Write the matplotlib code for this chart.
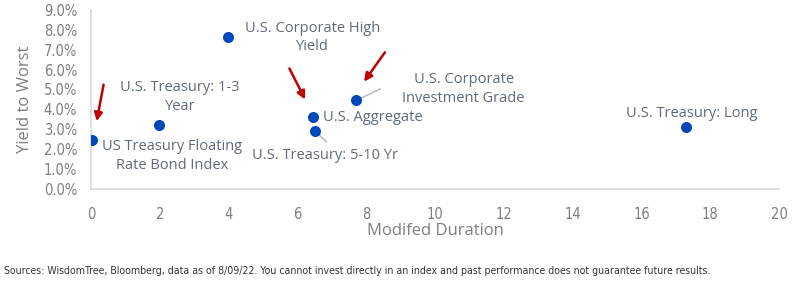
import matplotlib.pyplot as plt
from matplotlib.ticker import PercentFormatter
from matplotlib import font_manager

# data
names = ['US Treasury Floating\nRate Bond Index', 'U.S. Treasury: 1-3\nYear',
         'U.S. Corporate High\nYield', 'U.S. Aggregate', 'U.S. Treasury: 5-10 Yr',
         'U.S. Corporate\nInvestment Grade', 'U.S. Treasury: Long']
duration = [0.03, 1.98, 3.99, 6.46, 6.52, 7.69, 17.29]
ytw = [2.48, 3.22, 7.64, 3.62, 2.91, 4.47, 3.12]

# label placement (data coords) and alignment
label_pos = [(2.36, 1.66), (2.59, 4.62), (6.43, 7.61), (6.75, 3.57),
             (6.81, 1.66), (10.83, 5.03), (17.47, 3.77)]
label_ha = ['center', 'center', 'center', 'left', 'center', 'center', 'center']

x_ticks = list(range(0, 21, 2))
y_ticks = [i * 1.0 for i in range(10)]

gray = '#7f7f7f'
txt = '#5f6b7a'
plt.rcParams['font.family'] = ['Open Sans', 'DejaVu Sans']

# a narrow face for ticks and footnote, if one is around
names_avail = {f.name for f in font_manager.fontManager.ttflist}
narrow = 'Liberation Sans Narrow' if 'Liberation Sans Narrow' in names_avail else 'DejaVu Sans'

fig = plt.figure(figsize=(7.95, 2.82), dpi=100)
ax = fig.add_axes([0.1145, 0.33, 0.8655, 0.635])

ax.scatter(duration, ytw, s=48, color='#0047bb', zorder=3)

for name, (lx, ly), ha in zip(names, label_pos, label_ha):
    ax.text(lx, ly, name, ha=ha, va='center', fontsize=10.5, color=txt,
            linespacing=1.35)

# leader lines
ax.plot([7.74, 8.41], [4.47, 5.03], color='#b0b8c4', lw=1)
ax.plot([6.52, 6.84], [2.91, 2.36], color='#b0b8c4', lw=1)

# red arrows
arrows = [((0.38, 5.38), (0.15, 3.27)),
          ((5.73, 6.18), (6.26, 4.37)),
          ((8.59, 6.98), (7.89, 5.28))]
for start, end in arrows:
    ax.annotate('', xy=end, xytext=start,
                arrowprops=dict(arrowstyle='-|>', color='#c00000', lw=1.8,
                                mutation_scale=12))

ax.set_xlim(0, 20)
ax.set_ylim(0, 9)
ax.set_xticks(x_ticks)
ax.set_yticks(y_ticks)
ax.yaxis.set_major_formatter(PercentFormatter(decimals=1))
ax.tick_params(length=0, labelsize=10.5, labelcolor=gray, pad=10)
ax.tick_params(axis='x', pad=13)
for t in ax.get_xticklabels() + ax.get_yticklabels():
    t.set_family(narrow)
    t.set_stretch('condensed')
for s in ['top', 'right']:
    ax.spines[s].set_visible(False)
for s in ['left', 'bottom']:
    ax.spines[s].set_color('#d9d9d9')
    ax.spines[s].set_linewidth(1.2)

ax.set_xlabel('Modifed Duration', fontsize=12, color=gray, labelpad=1)
ax.set_ylabel('Yield to Worst', fontsize=12, color=gray, labelpad=8)

fig.text(0.005, 0.03, 'Sources: WisdomTree, Bloomberg, data as of 8/09/22. You cannot invest '
         'directly in an index and past performance does not guarantee future results.',
         fontsize=7.6, color='#333333', family=narrow, stretch='condensed')

fig.savefig('out.png', dpi=100)
